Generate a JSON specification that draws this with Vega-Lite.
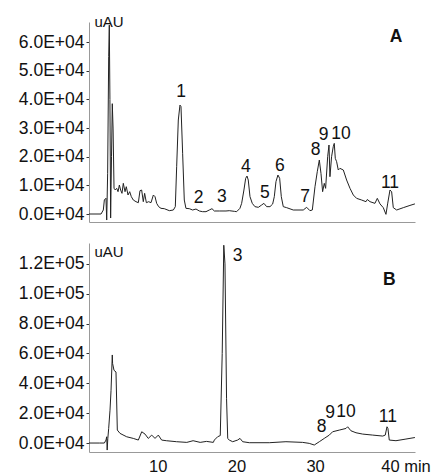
{
  "$schema": "https://vega.github.io/schema/vega-lite/v6.json",
  "padding": {"left": 18, "top": 14, "right": 0, "bottom": 0},
  "bounds": "flush",
  "spacing": 21,
  "config": {
    "font": "Liberation Sans",
    "view": {"stroke": null},
    "axis": {
      "grid": false,
      "domainColor": "#999999",
      "labelColor": "#111111",
      "labelFontSize": 17.5,
      "titleColor": "#111111",
      "titleFontWeight": "normal"
    },
    "text": {"fontSize": 17.5, "color": "#111111"}
  },
  "datasets": {
    "a": [
      {"t": 1.27, "v": 0}, {"t": 2.8, "v": 0}, {"t": 3.09, "v": 1400}, {"t": 3.22, "v": 4900},
      {"t": 3.43, "v": 5500}, {"t": 3.52, "v": -2100}, {"t": 3.64, "v": 14200}, {"t": 3.77, "v": 54900},
      {"t": 3.85, "v": 65900}, {"t": 3.93, "v": 40000}, {"t": 4.02, "v": -1400}, {"t": 4.13, "v": 20000},
      {"t": 4.23, "v": 38500}, {"t": 4.33, "v": 30000}, {"t": 4.45, "v": 9000}, {"t": 4.6, "v": 8400},
      {"t": 4.79, "v": 8950}, {"t": 4.96, "v": 7790}, {"t": 5.13, "v": 10120}, {"t": 5.29, "v": 8370},
      {"t": 5.46, "v": 7210}, {"t": 5.63, "v": 10700}, {"t": 5.85, "v": 7790}, {"t": 6.01, "v": 9530},
      {"t": 6.23, "v": 6630}, {"t": 6.44, "v": 7790}, {"t": 6.65, "v": 6050}, {"t": 6.9, "v": 4880},
      {"t": 7.24, "v": 4300}, {"t": 7.54, "v": 3950}, {"t": 7.75, "v": 8140}, {"t": 7.96, "v": 8370},
      {"t": 8.17, "v": 4300}, {"t": 8.34, "v": 7210}, {"t": 8.56, "v": 3950}, {"t": 8.85, "v": 4300},
      {"t": 9.15, "v": 3950}, {"t": 9.45, "v": 6630}, {"t": 9.66, "v": 6050}, {"t": 9.87, "v": 3720},
      {"t": 10.12, "v": 2560}, {"t": 10.42, "v": 1980}, {"t": 10.84, "v": 1860}, {"t": 11.48, "v": 1160},
      {"t": 11.99, "v": 1395}, {"t": 12.24, "v": 2560}, {"t": 12.41, "v": 16500}, {"t": 12.62, "v": 32800},
      {"t": 12.83, "v": 38000}, {"t": 12.96, "v": 37500}, {"t": 13.17, "v": 21200}, {"t": 13.38, "v": 4880},
      {"t": 13.59, "v": 1980}, {"t": 14.02, "v": 1860}, {"t": 14.44, "v": 1395}, {"t": 14.87, "v": 1740},
      {"t": 15.29, "v": 1050}, {"t": 15.71, "v": 810}, {"t": 16.14, "v": 810}, {"t": 16.56, "v": 1395},
      {"t": 16.9, "v": 1860}, {"t": 17.2, "v": 1050}, {"t": 17.83, "v": 1050}, {"t": 18.68, "v": 1050},
      {"t": 19.1, "v": 1160}, {"t": 19.74, "v": 930}, {"t": 20.03, "v": 810}, {"t": 20.45, "v": 1980},
      {"t": 20.67, "v": 3720}, {"t": 20.96, "v": 8370}, {"t": 21.18, "v": 12440}, {"t": 21.35, "v": 13250},
      {"t": 21.51, "v": 11860}, {"t": 21.73, "v": 6050}, {"t": 22.02, "v": 3720}, {"t": 22.36, "v": 2560},
      {"t": 22.79, "v": 2330}, {"t": 23.21, "v": 3140}, {"t": 23.5, "v": 3720}, {"t": 23.85, "v": 2560},
      {"t": 24.27, "v": 2560}, {"t": 24.61, "v": 3480}, {"t": 24.82, "v": 6050}, {"t": 25.03, "v": 11280},
      {"t": 25.28, "v": 13600}, {"t": 25.5, "v": 12440}, {"t": 25.71, "v": 6050}, {"t": 25.96, "v": 2560},
      {"t": 26.39, "v": 2210}, {"t": 27.23, "v": 1395}, {"t": 28.5, "v": 1395}, {"t": 28.93, "v": 2330},
      {"t": 29.35, "v": 1160}, {"t": 29.65, "v": 1395}, {"t": 29.99, "v": 9530}, {"t": 30.28, "v": 14760},
      {"t": 30.54, "v": 18830}, {"t": 30.75, "v": 14180}, {"t": 30.96, "v": 7790}, {"t": 31.17, "v": 10700},
      {"t": 31.34, "v": 8950}, {"t": 31.6, "v": 20000}, {"t": 31.77, "v": 24070}, {"t": 31.89, "v": 13020},
      {"t": 32.1, "v": 20000}, {"t": 32.31, "v": 23480}, {"t": 32.44, "v": 24650}, {"t": 32.57, "v": 19420},
      {"t": 32.74, "v": 18250}, {"t": 32.95, "v": 15350}, {"t": 33.16, "v": 15930}, {"t": 33.59, "v": 15350},
      {"t": 34.01, "v": 11860}, {"t": 34.44, "v": 8950}, {"t": 34.86, "v": 6630}, {"t": 35.28, "v": 5460},
      {"t": 35.92, "v": 4880}, {"t": 36.47, "v": 4300}, {"t": 36.64, "v": 5070}, {"t": 36.98, "v": 4300},
      {"t": 37.61, "v": 3720}, {"t": 37.91, "v": 5460}, {"t": 38.25, "v": 3530}, {"t": 38.67, "v": 2210},
      {"t": 39.01, "v": -120}, {"t": 39.22, "v": 3530}, {"t": 39.52, "v": 8370}, {"t": 39.73, "v": 7790},
      {"t": 39.94, "v": 2210}, {"t": 40.37, "v": 1395}, {"t": 41.21, "v": 2210}, {"t": 42.06, "v": 3000},
      {"t": 42.69, "v": 3530}
    ],
    "b": [
      {"t": 1.27, "v": 0}, {"t": 2.58, "v": 0}, {"t": 3.22, "v": 0}, {"t": 3.43, "v": 2000},
      {"t": 3.52, "v": 4200}, {"t": 3.58, "v": -4700}, {"t": 3.66, "v": 2900}, {"t": 3.77, "v": 9800},
      {"t": 3.94, "v": 22000}, {"t": 4.07, "v": 35300}, {"t": 4.23, "v": 59000}, {"t": 4.27, "v": 53300},
      {"t": 4.45, "v": 48700}, {"t": 4.7, "v": 47600}, {"t": 4.87, "v": 8700}, {"t": 5.21, "v": 6470},
      {"t": 6.06, "v": 4200}, {"t": 6.9, "v": 3100}, {"t": 7.54, "v": 2000}, {"t": 7.97, "v": 7560},
      {"t": 8.39, "v": 6000}, {"t": 8.8, "v": 3100}, {"t": 9.24, "v": 5330}, {"t": 9.66, "v": 3100},
      {"t": 10.08, "v": 5330}, {"t": 10.5, "v": 2000}, {"t": 11.1, "v": 1560}, {"t": 12.4, "v": 890},
      {"t": 13.7, "v": 440}, {"t": 14.5, "v": 1560}, {"t": 15.4, "v": 440}, {"t": 16.2, "v": 1100},
      {"t": 17.07, "v": 440}, {"t": 17.2, "v": 2000}, {"t": 17.62, "v": 4220}, {"t": 17.95, "v": 5000},
      {"t": 18.2, "v": 60000}, {"t": 18.4, "v": 132500}, {"t": 18.55, "v": 120000}, {"t": 18.75, "v": 30000},
      {"t": 18.9, "v": 3000}, {"t": 19.1, "v": 2000}, {"t": 19.53, "v": 890}, {"t": 20.16, "v": 2000},
      {"t": 20.46, "v": 3110}, {"t": 20.8, "v": 890}, {"t": 21.64, "v": 220}, {"t": 24.18, "v": 220},
      {"t": 26.3, "v": 890}, {"t": 28.42, "v": 440}, {"t": 29.26, "v": -220}, {"t": 29.9, "v": -1330},
      {"t": 30.54, "v": 890}, {"t": 31.17, "v": 3110}, {"t": 31.81, "v": 5330}, {"t": 32.23, "v": 7560},
      {"t": 33.07, "v": 8670}, {"t": 33.93, "v": 9780}, {"t": 34.14, "v": 10900}, {"t": 34.56, "v": 8220},
      {"t": 35.2, "v": 6890}, {"t": 36.05, "v": 6000}, {"t": 37.32, "v": 5330}, {"t": 38.6, "v": 4670},
      {"t": 38.92, "v": 5330}, {"t": 39.14, "v": 10900}, {"t": 39.26, "v": 9780}, {"t": 39.43, "v": 2000},
      {"t": 40.28, "v": 1560}, {"t": 41.55, "v": 2670}, {"t": 42.69, "v": 3700}
    ],
    "peaksA": [
      {"t": 12.96, "v": 42660, "txt": "1"}, {"t": 15.2, "v": 5470, "txt": "2"},
      {"t": 18.17, "v": 6050, "txt": "3"}, {"t": 21.22, "v": 16500, "txt": "4"},
      {"t": 23.63, "v": 7210, "txt": "5"}, {"t": 25.54, "v": 16740, "txt": "6"},
      {"t": 28.72, "v": 6050, "txt": "7"}, {"t": 30.07, "v": 22320, "txt": "8"},
      {"t": 31.08, "v": 27550, "txt": "9"}, {"t": 33.29, "v": 28000, "txt": "10"},
      {"t": 39.52, "v": 10700, "txt": "11"}
    ],
    "peaksB": [
      {"t": 20.16, "v": 125300, "txt": "3"}, {"t": 30.84, "v": 10500, "txt": "8"},
      {"t": 31.9, "v": 19900, "txt": "9"}, {"t": 33.93, "v": 21000, "txt": "10"},
      {"t": 39.26, "v": 17600, "txt": "11"}
    ],
    "panelA": [{"t": 40.28, "v": 61840, "txt": "A"}],
    "panelB": [{"t": 39.43, "v": 109200, "txt": "B"}]
  },
  "resolve": {"scale": {"x": "independent", "y": "independent"}},
  "vconcat": [
    {
      "width": 326,
      "height": 200,
      "encoding": {
        "x": {
          "field": "t",
          "type": "quantitative",
          "scale": {"domain": [1.27, 42.7], "nice": false, "zero": false},
          "axis": {"title": null, "labels": false, "ticks": false}
        },
        "y": {
          "field": "v",
          "type": "quantitative",
          "scale": {"domain": [-2790, 67000], "nice": false, "zero": false},
          "axis": {
            "values": [0, 10000, 20000, 30000, 40000, 50000, 60000],
            "labelExpr": "format(datum.value / 10000, '.1f') + 'E+04'",
            "tickSize": 3,
            "tickColor": "#333333",
            "labelPadding": 2,
            "title": "uAU",
            "titleAngle": 0,
            "titleAlign": "left",
            "titleBaseline": "alphabetic",
            "titleFontSize": 15,
            "titleX": 5,
            "titleY": 4
          }
        }
      },
      "layer": [
        {
          "data": {"name": "a"},
          "mark": {"type": "line", "stroke": "#222222", "strokeWidth": 1}
        },
        {
          "data": {"name": "peaksA"},
          "mark": {"type": "text"},
          "encoding": {"text": {"field": "txt"}}
        },
        {
          "data": {"name": "panelA"},
          "mark": {"type": "text", "fontWeight": "bold"},
          "encoding": {"text": {"field": "txt"}}
        }
      ]
    },
    {
      "width": 326,
      "height": 209,
      "encoding": {
        "x": {
          "field": "t",
          "type": "quantitative",
          "scale": {"domain": [1.27, 42.7], "nice": false, "zero": false},
          "axis": {
            "title": null,
            "values": [10, 20, 30, 40],
            "ticks": false,
            "tickSize": 0,
            "labelPadding": 6,
            "labelFontSize": 16.5,
            "labelExpr": "datum.value == 40 ? '40 min' : datum.label",
            "labelAlign": {"condition": {"test": "datum.value == 40", "value": "left"}, "value": "center"},
            "labelOffset": {"condition": {"test": "datum.value == 40", "value": -13}, "value": 0}
          }
        },
        "y": {
          "field": "v",
          "type": "quantitative",
          "scale": {"domain": [-6000, 134000], "nice": false, "zero": false},
          "axis": {
            "values": [0, 20000, 40000, 60000, 80000, 100000, 120000],
            "labelExpr": "datum.value >= 100000 ? format(datum.value / 100000, '.1f') + 'E+05' : format(datum.value / 10000, '.1f') + 'E+04'",
            "tickSize": 3,
            "tickColor": "#333333",
            "labelPadding": 2,
            "title": "uAU",
            "titleAngle": 0,
            "titleAlign": "left",
            "titleBaseline": "alphabetic",
            "titleFontSize": 15,
            "titleX": 5,
            "titleY": 13
          }
        }
      },
      "layer": [
        {
          "data": {"name": "b"},
          "mark": {"type": "line", "stroke": "#222222", "strokeWidth": 1}
        },
        {
          "data": {"name": "peaksB"},
          "mark": {"type": "text"},
          "encoding": {"text": {"field": "txt"}}
        },
        {
          "data": {"name": "panelB"},
          "mark": {"type": "text", "fontWeight": "bold"},
          "encoding": {"text": {"field": "txt"}}
        }
      ]
    }
  ]
}
